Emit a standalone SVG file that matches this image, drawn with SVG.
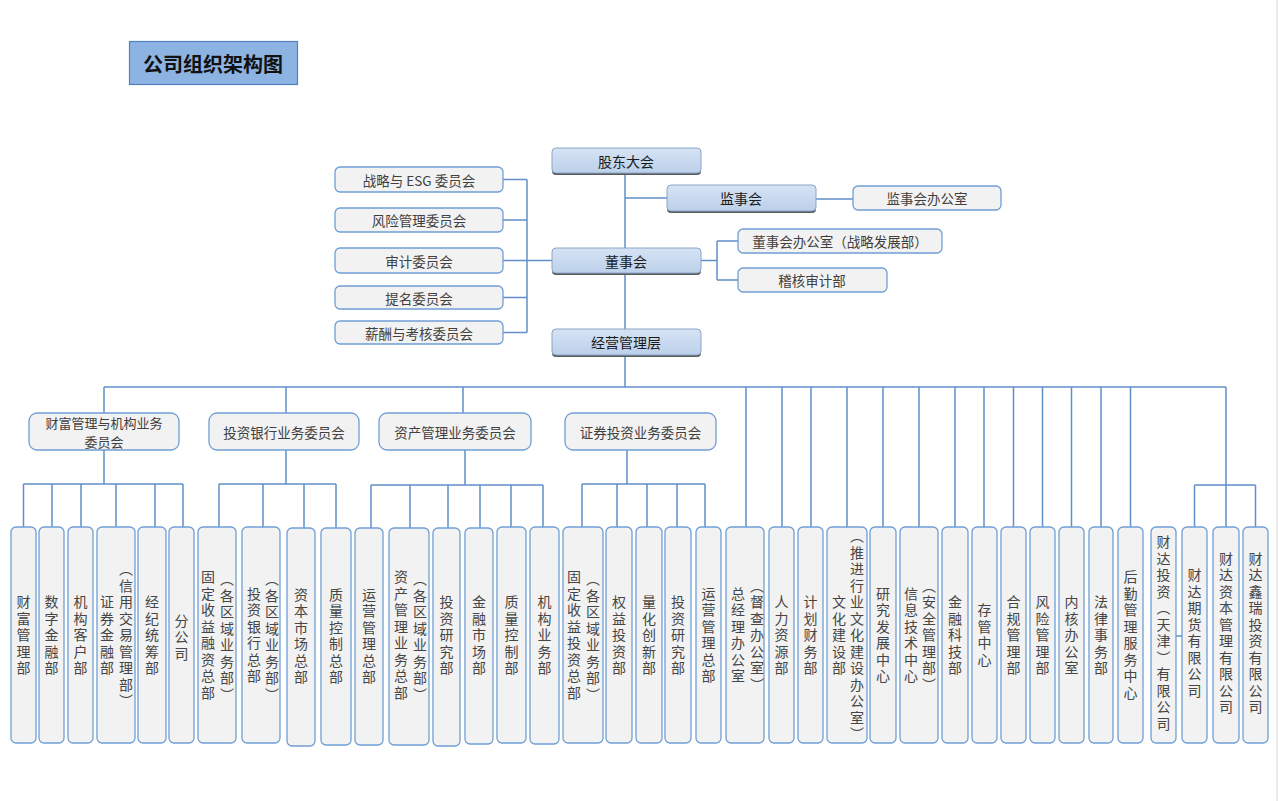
<svg xmlns="http://www.w3.org/2000/svg" width="1278" height="801" viewBox="0 0 1278 801">
<defs>
<linearGradient id="mg" x1="0" y1="0" x2="0" y2="1">
<stop offset="0" stop-color="#d6e3f4"/>
<stop offset="1" stop-color="#bcd0ea"/>
</linearGradient>
<style>
.ln{stroke:#5f90c9;stroke-width:1.5;fill:none}
.bx{fill:#f2f2f2;stroke:#6f9fd5;stroke-width:1.3}
.mb{fill:url(#mg);stroke:#8aa6c8;stroke-width:1}
.sh{fill:#5a5a5a}
.t{font-family:"Noto Sans CJK SC","Noto Sans",sans-serif;font-size:13.5px;fill:#404040;text-anchor:middle;dominant-baseline:central}
.t2{font-family:"Noto Sans CJK SC","Noto Sans",sans-serif;font-size:13px;fill:#404040;text-anchor:middle;dominant-baseline:central}
.m{font-family:"Noto Sans CJK SC","Noto Sans",sans-serif;font-size:14px;fill:#1a1a1a;text-anchor:middle;dominant-baseline:central}
.v{font-family:"Noto Sans CJK SC","Noto Sans",sans-serif;font-size:14px;fill:#454545;text-anchor:middle;writing-mode:vertical-rl;letter-spacing:2.5px}
</style>
</defs>
<rect x="0" y="0" width="1278" height="801" fill="#ffffff"/>
<line x1="1277" y1="0" x2="1277" y2="801" stroke="#d9d9d9" stroke-width="1"/>

<g id="title">
<rect x="129.5" y="41.5" width="168" height="43" fill="#8db3e2" stroke="#4f81bd" stroke-width="1.2"/>
<text x="213" y="63" font-family="Noto Sans CJK SC, sans-serif" font-size="20" font-weight="bold" fill="#111" text-anchor="middle" dominant-baseline="central">公司组织架构图</text>
</g>

<g id="connectors">
<path class="ln" d="M625,173V329M625,356V387"/>
<path class="ln" d="M625,198H667M816,199H853"/>
<path class="ln" d="M701,260.5H717M717,241V280M717,241H738M717,280H738"/>
<path class="ln" d="M527,179.5V332.5M503,179.5H527M503,220H527M503,260.5H552M503,297.5H527M503,332.5H527"/>
<path class="ln" d="M104,387H1226"/>
<path class="ln" d="M104,387V413M286,387V413M463,387V413"/>
<path class="ln" d="M104,450V484M286,450V484M465,450V485M627,450V484"/>
<path class="ln" d="M23.5,484H183M23.5,484V527M52,484V527M81,484V527M116,484V527M155,484V527M183,484V527"/>
<path class="ln" d="M219,484H336M219,484V527M263,484V527M304,484V528M336,484V528"/>
<path class="ln" d="M371,485H543M371,485V528M410,485V528M448,485V528M480,485V528M511,485V527M543,485V527"/>
<path class="ln" d="M582,484H705M582,484V527M617,484V527M647,484V527M677,484V527M705,484V527"/>
<path class="ln" d="M746,387V527M782,387V527M811,387V527M847,387V527M883,387V527M919,387V527M955,387V527M984,387V527M1013.5,387V527M1042.5,387V527M1071.5,387V527M1101,387V527M1130.5,387V527M1226,387V527"/>
<path class="ln" d="M1194.5,485H1255.5M1194.5,485V527M1255.5,485V527"/>
<path class="ln" d="M1176,636H1182"/>
</g>

<g id="n-gudong"><rect class="sh" x="552" y="150" width="149" height="25" rx="4"/><rect class="mb" x="552" y="148" width="149" height="25" rx="4"/><text class="m" x="626" y="160.5">股东大会</text></g>
<g id="n-jianshi"><rect class="sh" x="667" y="187" width="149" height="26" rx="4"/><rect class="mb" x="667" y="185" width="149" height="26" rx="4"/><text class="m" x="741" y="198">监事会</text></g>
<g id="n-dongshi"><rect class="sh" x="552" y="250" width="149" height="25" rx="4"/><rect class="mb" x="552" y="248" width="149" height="25" rx="4"/><text class="m" x="626" y="260.5">董事会</text></g>
<g id="n-jingying"><rect class="sh" x="552" y="331" width="149" height="26" rx="4"/><rect class="mb" x="552" y="329" width="149" height="26" rx="4"/><text class="m" x="626" y="342">经营管理层</text></g>

<g id="n-jsbgs"><rect class="bx" x="853" y="186" width="148" height="24" rx="5"/><text class="t" x="927" y="198">监事会办公室</text></g>
<g id="n-dsbgs"><rect class="bx" x="738" y="229" width="204" height="24" rx="5"/><text class="t" x="840" y="241">董事会办公室（战略发展部）</text></g>
<g id="n-jihe"><rect class="bx" x="738" y="268" width="149" height="24" rx="5"/><text class="t" x="812" y="280">稽核审计部</text></g>

<g id="n-esg"><rect class="bx" x="335" y="167" width="168" height="25" rx="5"/><text class="t" x="419" y="179.5">战略与 ESG 委员会</text></g>
<g id="n-fengxian"><rect class="bx" x="335" y="208" width="168" height="24" rx="5"/><text class="t" x="419" y="220">风险管理委员会</text></g>
<g id="n-shenji"><rect class="bx" x="335" y="248" width="168" height="25" rx="5"/><text class="t" x="419" y="260.5">审计委员会</text></g>
<g id="n-timing"><rect class="bx" x="335" y="286" width="168" height="23" rx="5"/><text class="t" x="419" y="297.5">提名委员会</text></g>
<g id="n-xinchou"><rect class="bx" x="335" y="321" width="168" height="23" rx="5"/><text class="t" x="419" y="332.5">薪酬与考核委员会</text></g>

<g id="c-caifu"><rect class="bx" x="29" y="413" width="150" height="37" rx="8"/><text class="t2" x="104" y="422">财富管理与机构业务</text><text class="t2" x="104" y="441.5">委员会</text></g>
<g id="c-touhang"><rect class="bx" x="209" y="413" width="150" height="37" rx="8"/><text class="t" x="284" y="431.5">投资银行业务委员会</text></g>
<g id="c-zichan"><rect class="bx" x="379" y="413" width="152" height="37" rx="8"/><text class="t" x="455" y="431.5">资产管理业务委员会</text></g>
<g id="c-zhengquan"><rect class="bx" x="565" y="413" width="151" height="37" rx="8"/><text class="t" x="640.5" y="431.5">证券投资业务委员会</text></g>

<g id="d01"><rect class="bx" x="11" y="527" width="25" height="216" rx="5"/><text class="v" x="23.5" y="636">财富管理部</text></g>
<g id="d02"><rect class="bx" x="39" y="527" width="25" height="216" rx="5"/><text class="v" x="51.5" y="636">数字金融部</text></g>
<g id="d03"><rect class="bx" x="68" y="527" width="25" height="216" rx="5"/><text class="v" x="80.5" y="636">机构客户部</text></g>
<g id="d04"><rect class="bx" x="97" y="527" width="38" height="216" rx="5"/><text class="v" x="107" y="636">证券金融部</text><text class="v" x="126" y="636">（信用交易管理部）</text></g>
<g id="d05"><rect class="bx" x="138" y="527" width="28" height="216" rx="5"/><text class="v" x="152" y="636">经纪统筹部</text></g>
<g id="d06"><rect class="bx" x="169" y="527" width="25" height="216" rx="5"/><text class="v" x="181.5" y="638">分公司</text></g>
<g id="d07"><rect class="bx" x="198" y="527" width="38" height="216" rx="5"/><text class="v" x="208" y="636">固定收益融资总部</text><text class="v" x="227" y="638">（各区域业务部）</text></g>
<g id="d08"><rect class="bx" x="242" y="527" width="38" height="216" rx="5"/><text class="v" x="254" y="636">投资银行总部</text><text class="v" x="272" y="638">（各区域业务部）</text></g>
<g id="d09"><rect class="bx" x="287" y="528" width="28" height="218" rx="5"/><text class="v" x="301" y="637">资本市场总部</text></g>
<g id="d10"><rect class="bx" x="321" y="528" width="30" height="217" rx="5"/><text class="v" x="336" y="637">质量控制总部</text></g>
<g id="d11"><rect class="bx" x="355" y="528" width="28" height="217" rx="5"/><text class="v" x="369" y="637">运营管理总部</text></g>
<g id="d12"><rect class="bx" x="389" y="528" width="40" height="217" rx="5"/><text class="v" x="401" y="636">资产管理业务总部</text><text class="v" x="420" y="638">（各区域业务部）</text></g>
<g id="d13"><rect class="bx" x="433" y="528" width="27" height="218" rx="5"/><text class="v" x="446.5" y="636">投资研究部</text></g>
<g id="d14"><rect class="bx" x="465" y="528" width="28" height="216" rx="5"/><text class="v" x="479" y="636">金融市场部</text></g>
<g id="d15"><rect class="bx" x="497" y="527" width="29" height="216" rx="5"/><text class="v" x="511.5" y="636">质量控制部</text></g>
<g id="d16"><rect class="bx" x="530" y="527" width="29" height="217" rx="5"/><text class="v" x="544.5" y="636">机构业务部</text></g>
<g id="d17"><rect class="bx" x="563" y="527" width="40" height="216" rx="5"/><text class="v" x="574" y="636">固定收益投资总部</text><text class="v" x="593" y="638">（各区域业务部）</text></g>
<g id="d18"><rect class="bx" x="606" y="527" width="26" height="216" rx="5"/><text class="v" x="619" y="636">权益投资部</text></g>
<g id="d19"><rect class="bx" x="636" y="527" width="26" height="216" rx="5"/><text class="v" x="649" y="636">量化创新部</text></g>
<g id="d20"><rect class="bx" x="665" y="527" width="26" height="216" rx="5"/><text class="v" x="678" y="636">投资研究部</text></g>
<g id="d21"><rect class="bx" x="696" y="527" width="25" height="216" rx="5"/><text class="v" x="708.5" y="636">运营管理总部</text></g>
<g id="d22"><rect class="bx" x="726" y="527" width="38" height="216" rx="5"/><text class="v" x="738" y="636">总经理办公室</text><text class="v" x="757" y="636">（督查办公室）</text></g>
<g id="d23"><rect class="bx" x="769" y="527" width="25" height="216" rx="5"/><text class="v" x="781.5" y="636">人力资源部</text></g>
<g id="d24"><rect class="bx" x="798" y="527" width="25" height="216" rx="5"/><text class="v" x="810.5" y="636">计划财务部</text></g>
<g id="d25"><rect class="bx" x="827" y="527" width="40" height="216" rx="5"/><text class="v" x="839" y="636">文化建设部</text><text class="v" x="857" y="636">（推进行业文化建设办公室）</text></g>
<g id="d26"><rect class="bx" x="870" y="527" width="26" height="216" rx="5"/><text class="v" x="883" y="636">研究发展中心</text></g>
<g id="d27"><rect class="bx" x="900" y="527" width="38" height="216" rx="5"/><text class="v" x="911" y="636">信息技术中心</text><text class="v" x="929" y="636">（安全管理部）</text></g>
<g id="d28"><rect class="bx" x="942" y="527" width="26" height="216" rx="5"/><text class="v" x="955" y="636">金融科技部</text></g>
<g id="d29"><rect class="bx" x="972" y="527" width="25" height="216" rx="5"/><text class="v" x="984.5" y="636">存管中心</text></g>
<g id="d30"><rect class="bx" x="1001" y="527" width="25" height="216" rx="5"/><text class="v" x="1013.5" y="636">合规管理部</text></g>
<g id="d31"><rect class="bx" x="1030" y="527" width="25" height="216" rx="5"/><text class="v" x="1042.5" y="636">风险管理部</text></g>
<g id="d32"><rect class="bx" x="1059" y="527" width="25" height="216" rx="5"/><text class="v" x="1071.5" y="636">内核办公室</text></g>
<g id="d33"><rect class="bx" x="1089" y="527" width="24" height="216" rx="5"/><text class="v" x="1101" y="636">法律事务部</text></g>
<g id="d34"><rect class="bx" x="1118" y="527" width="25" height="216" rx="5"/><text class="v" x="1130.5" y="636">后勤管理服务中心</text></g>
<g id="d35"><rect class="bx" x="1151" y="527" width="25" height="216" rx="5"/><text class="v" x="1163.5" y="634">财达投资（天津）有限公司</text></g>
<g id="d36"><rect class="bx" x="1182" y="527" width="25" height="216" rx="5"/><text class="v" x="1194.5" y="634">财达期货有限公司</text></g>
<g id="d37"><rect class="bx" x="1213" y="527" width="26" height="216" rx="5"/><text class="v" x="1226" y="634">财达资本管理有限公司</text></g>
<g id="d38"><rect class="bx" x="1243" y="527" width="25" height="216" rx="5"/><text class="v" x="1255.5" y="634">财达鑫瑞投资有限公司</text></g>
</svg>
